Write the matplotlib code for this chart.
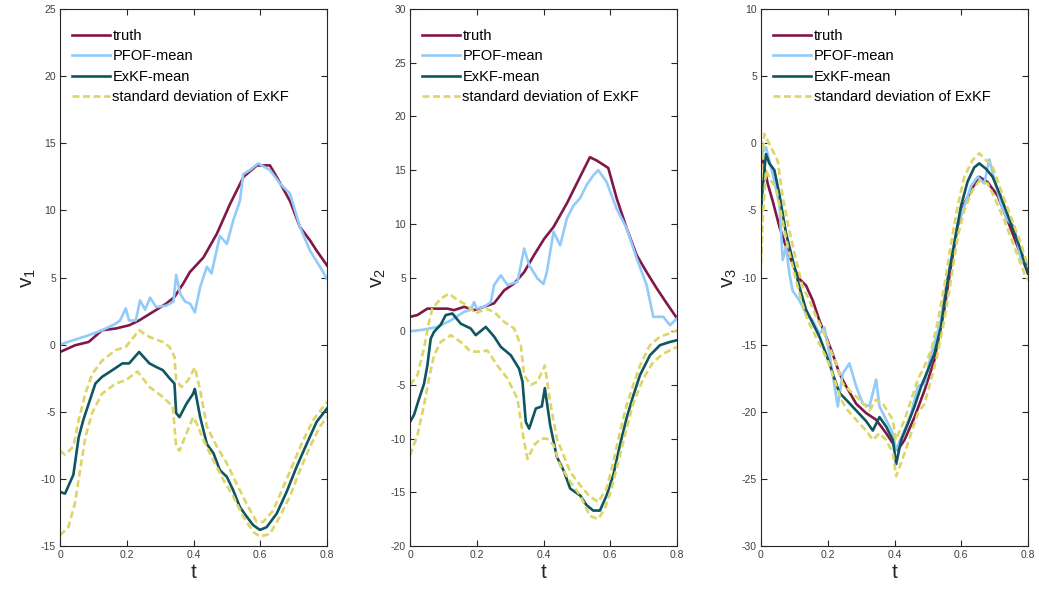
import matplotlib
matplotlib.use("Agg")
import matplotlib.pyplot as plt

plt.rcParams['font.family'] = ['Liberation Sans', 'DejaVu Sans']
plt.rcParams['mathtext.default'] = 'regular'
plt.rcParams['axes.unicode_minus'] = False

# ---------------- component v1 ----------------
v1_truth_t = [0, 0.045, 0.086, 0.126, 0.167, 0.207, 0.237, 0.278, 0.318, 0.343, 0.369, 0.389,
              0.43, 0.47, 0.51, 0.55, 0.59, 0.629, 0.649, 0.689, 0.719, 0.749, 0.769, 0.8]
v1_truth = [-0.55, -0.05, 0.2, 1.07, 1.2, 1.44, 1.8, 2.43, 3.05, 3.55, 4.54, 5.4,
            6.5, 8.26, 10.5, 12.5, 13.35, 13.35, 12.5, 10.7, 8.76, 7.77, 7.0, 5.9]

v1_pfof_t = [0, 0.045, 0.086, 0.126, 0.167, 0.18, 0.197, 0.207, 0.227, 0.24, 0.255, 0.27, 0.288,
             0.318, 0.34, 0.348, 0.36, 0.375, 0.39, 0.404, 0.42, 0.44, 0.454, 0.479, 0.5,
             0.519, 0.539, 0.549, 0.569, 0.594, 0.629, 0.659, 0.689, 0.719, 0.749, 0.779, 0.8]
v1_pfof = [0.0, 0.37, 0.7, 1.07, 1.56, 1.8, 2.7, 1.8, 1.8, 3.3, 2.6, 3.5, 2.8,
           2.9, 3.2, 5.2, 3.8, 3.2, 3.05, 2.4, 4.3, 5.8, 5.3, 8.1, 7.5,
           9.25, 10.7, 12.7, 13.0, 13.5, 13.0, 12.0, 11.25, 8.76, 7.0, 5.8, 4.9]

v1_exkf_t = [0, 0.015, 0.04, 0.056, 0.07, 0.086, 0.106, 0.126, 0.157, 0.187, 0.207, 0.237,
             0.268, 0.288, 0.308, 0.328, 0.343, 0.348, 0.358, 0.379, 0.399, 0.404, 0.42,
             0.44, 0.46, 0.479, 0.5, 0.519, 0.539, 0.559, 0.579, 0.599, 0.619, 0.649,
             0.679, 0.709, 0.739, 0.769, 0.8]
v1_exkf = [-10.97, -11.1, -9.7, -6.9, -5.6, -4.4, -2.9, -2.4, -1.9, -1.4, -1.4, -0.55,
           -1.4, -1.66, -1.9, -2.5, -2.9, -5.1, -5.4, -4.4, -3.65, -3.3, -5.4,
           -7.4, -8.1, -9.35, -9.85, -10.85, -12.1, -12.8, -13.45, -13.8, -13.6, -12.6,
           -10.97, -9.1, -7.4, -5.75, -4.76]

v1_up_t = [0, 0.015, 0.04, 0.056, 0.076, 0.096, 0.126, 0.167, 0.197, 0.237, 0.268, 0.308,
           0.328, 0.343, 0.348, 0.364, 0.384, 0.404, 0.42, 0.44, 0.47, 0.5, 0.529, 0.559,
           0.589, 0.609, 0.639, 0.669, 0.699, 0.729, 0.759, 0.8]
v1_up = [-7.9, -8.2, -7.6, -5.6, -3.65, -2.2, -1.2, -0.4, -0.17, 1.07, 0.57, 0.2,
         -0.17, -0.9, -2.65, -3.15, -2.65, -1.7, -3.4, -6.1, -7.6, -8.85, -10.35, -11.85,
         -13.2, -13.2, -12.35, -10.6, -8.85, -7.1, -5.6, -4.27]

v1_lo_t = [0, 0.025, 0.045, 0.06, 0.076, 0.096, 0.126, 0.167, 0.197, 0.232, 0.268, 0.308,
           0.338, 0.348, 0.358, 0.379, 0.399, 0.41, 0.43, 0.459, 0.49, 0.519, 0.549, 0.579,
           0.599, 0.629, 0.659, 0.689, 0.719, 0.749, 0.779, 0.8]
v1_lo = [-14.2, -13.6, -11.8, -9.35, -6.9, -5.1, -3.65, -2.9, -2.65, -2.0, -3.15, -3.9,
         -4.6, -7.6, -7.9, -6.6, -5.4, -5.9, -7.1, -8.6, -10.1, -11.3, -12.8, -13.95,
         -14.3, -14.1, -12.8, -11.3, -9.35, -7.6, -6.1, -5.4]

# ---------------- component v2 ----------------
v2_truth_t = [0, 0.022, 0.052, 0.082, 0.112, 0.132, 0.162, 0.192, 0.222, 0.252, 0.282, 0.312,
              0.342, 0.372, 0.402, 0.43, 0.47, 0.51, 0.539, 0.559, 0.594, 0.619, 0.649,
              0.679, 0.709, 0.739, 0.769, 0.8]
v2_truth = [1.34, 1.5, 2.1, 2.1, 2.1, 1.96, 2.27, 1.96, 2.27, 2.6, 3.8, 4.44,
            5.5, 7.1, 8.6, 9.7, 11.9, 14.4, 16.2, 15.9, 15.2, 12.4, 9.6,
            7.1, 5.5, 4.0, 2.6, 1.2]

v2_pfof_t = [0, 0.042, 0.082, 0.122, 0.162, 0.182, 0.192, 0.2, 0.222, 0.242, 0.252, 0.272,
             0.292, 0.322, 0.342, 0.357, 0.382, 0.4, 0.41, 0.43, 0.45, 0.47, 0.49, 0.51,
             0.529, 0.549, 0.564, 0.589, 0.619, 0.649, 0.679, 0.709, 0.729, 0.759, 0.779, 0.8]
v2_pfof = [0.0, 0.15, 0.4, 1.0, 1.8, 2.0, 2.7, 2.1, 2.27, 2.7, 4.3, 5.2,
           4.3, 4.6, 7.7, 6.15, 4.9, 4.4, 5.5, 9.25, 8.0, 10.5, 11.7, 12.4,
           13.6, 14.5, 15.0, 13.9, 11.4, 9.6, 6.8, 4.3, 1.34, 1.34, 0.56, 1.2]

v2_exkf_t = [0, 0.012, 0.027, 0.042, 0.052, 0.062, 0.072, 0.092, 0.107, 0.127, 0.152, 0.182,
             0.197, 0.227, 0.252, 0.272, 0.302, 0.327, 0.337, 0.347, 0.357, 0.377, 0.395,
             0.404, 0.42, 0.44, 0.46, 0.48, 0.51, 0.529, 0.549, 0.569, 0.589, 0.609, 0.629,
             0.649, 0.669, 0.689, 0.719, 0.749, 0.779, 0.8]
v2_exkf = [-8.45, -7.8, -6.3, -4.9, -3.2, -0.7, -0.06, 0.6, 1.5, 1.65, 0.7, 0.25,
           -0.37, 0.4, -0.5, -1.46, -2.24, -3.5, -4.7, -8.45, -9.07, -7.2, -7.0,
           -5.3, -8.75, -11.7, -12.95, -14.65, -15.3, -16.2, -16.7, -16.7, -15.3, -13.4, -10.6,
           -8.1, -6.0, -4.1, -2.24, -1.3, -1.0, -0.84]

v2_up_t = [0, 0.022, 0.042, 0.057, 0.067, 0.092, 0.117, 0.142, 0.172, 0.197, 0.227, 0.252,
           0.282, 0.312, 0.332, 0.342, 0.362, 0.382, 0.404, 0.42, 0.44, 0.46, 0.48, 0.51,
           0.539, 0.564, 0.589, 0.609, 0.629, 0.649, 0.669, 0.689, 0.719, 0.749, 0.779, 0.8]
v2_up = [-5.0, -4.1, -1.6, 0.87, 2.1, 3.04, 3.5, 2.9, 2.4, 1.65, 2.1, 1.8,
         0.87, 0.25, -1.3, -4.1, -5.0, -4.7, -3.2, -6.6, -10.0, -11.55, -13.1, -14.35,
         -15.4, -15.9, -14.65, -12.2, -9.4, -6.9, -5.0, -3.2, -1.3, -0.5, -0.2, 0.1]

v2_lo_t = [0, 0.022, 0.042, 0.057, 0.072, 0.092, 0.122, 0.152, 0.182, 0.212, 0.232, 0.262,
           0.292, 0.322, 0.337, 0.352, 0.372, 0.392, 0.41, 0.43, 0.45, 0.48, 0.51, 0.539,
           0.564, 0.584, 0.604, 0.629, 0.649, 0.669, 0.699, 0.729, 0.759, 0.8]
v2_lo = [-11.55, -9.7, -6.9, -4.4, -2.24, -1.0, -0.37, -1.0, -1.9, -1.9, -1.8, -3.2,
         -4.4, -6.3, -9.4, -11.9, -10.6, -10.0, -10.0, -10.6, -12.5, -14.0, -15.3, -17.2,
         -17.5, -16.5, -14.65, -11.55, -9.07, -6.7, -4.4, -2.86, -2.1, -1.46]

# ---------------- component v3 ----------------
v3_truth_t = [0, 0.01, 0.02, 0.035, 0.055, 0.075, 0.095, 0.115, 0.135, 0.155, 0.175, 0.195,
              0.215, 0.235, 0.255, 0.285, 0.315, 0.345, 0.375, 0.395, 0.41, 0.43, 0.46,
              0.49, 0.519, 0.549, 0.569, 0.589, 0.609, 0.634, 0.654, 0.679, 0.709, 0.739,
              0.769, 0.8]
v3_truth = [-0.8, -1.8, -3.0, -4.3, -6.2, -7.7, -9.0, -10.1, -10.6, -11.7, -13.2, -14.4,
            -15.7, -17.15, -18.1, -19.4, -20.1, -20.6, -21.6, -22.35, -22.85, -22.1, -20.4,
            -18.4, -16.2, -12.4, -9.2, -6.2, -4.5, -3.3, -2.5, -2.9, -3.9, -5.75,
            -7.7, -9.7]

v3_pfof_t = [0, 0.015, 0.035, 0.055, 0.065, 0.075, 0.085, 0.095, 0.115, 0.135, 0.155, 0.175,
             0.19, 0.205, 0.23, 0.245, 0.265, 0.285, 0.305, 0.325, 0.345, 0.355, 0.375,
             0.395, 0.404, 0.43, 0.45, 0.47, 0.49, 0.51, 0.539, 0.554, 0.569, 0.589, 0.609,
             0.629, 0.649, 0.669, 0.684, 0.699, 0.719, 0.739, 0.759, 0.779, 0.8]
v3_pfof = [-0.8, -0.3, -2.3, -4.5, -8.7, -7.7, -9.7, -11.0, -11.7, -12.7, -13.2, -14.2,
           -13.7, -15.7, -19.6, -17.15, -16.4, -18.1, -19.4, -19.6, -17.6, -19.6, -20.6,
           -21.6, -22.85, -21.4, -20.1, -18.1, -17.9, -15.7, -13.2, -10.7, -8.7, -6.0, -4.7,
           -3.2, -2.5, -3.0, -1.2, -2.7, -4.5, -5.75, -6.2, -8.7, -9.0]

v3_exkf_t = [0, 0.005, 0.015, 0.025, 0.04, 0.055, 0.075, 0.095, 0.115, 0.135, 0.155, 0.175,
             0.195, 0.215, 0.235, 0.255, 0.285, 0.315, 0.335, 0.355, 0.375, 0.395, 0.405,
             0.42, 0.44, 0.46, 0.48, 0.5, 0.519, 0.539, 0.559, 0.579, 0.599, 0.619, 0.639,
             0.654, 0.674, 0.694, 0.719, 0.749, 0.779, 0.8]
v3_exkf = [-5.25, -3.3, -0.8, -1.5, -2.0, -3.8, -6.7, -8.7, -10.7, -12.4, -13.4, -14.4,
           -15.7, -17.15, -18.6, -19.1, -19.9, -20.7, -21.4, -20.4, -21.1, -22.1, -23.9,
           -22.1, -20.9, -19.6, -18.1, -16.9, -15.7, -13.7, -10.2, -7.5, -4.7, -2.85, -1.8,
           -1.5, -1.9, -2.5, -4.0, -6.0, -8.0, -9.7]

v3_up_t = [0, 0.01, 0.02, 0.035, 0.05, 0.065, 0.085, 0.105, 0.125, 0.145, 0.165, 0.185,
           0.205, 0.225, 0.245, 0.265, 0.295, 0.325, 0.345, 0.365, 0.395, 0.404, 0.43,
           0.45, 0.47, 0.49, 0.51, 0.529, 0.549, 0.569, 0.589, 0.609, 0.634, 0.654, 0.674,
           0.694, 0.719, 0.749, 0.779, 0.8]
v3_up = [-2.8, 0.7, 0.2, -0.55, -1.3, -4.0, -6.5, -8.7, -10.7, -11.7, -12.9, -13.9,
         -15.2, -16.4, -17.9, -18.4, -19.1, -19.9, -19.1, -19.4, -20.6, -22.1, -20.6,
         -19.1, -17.6, -16.6, -15.4, -13.4, -10.7, -7.5, -4.7, -2.5, -1.25, -0.75, -1.25,
         -1.75, -3.5, -5.5, -7.5, -9.2]

v3_lo_t = [0, 0.005, 0.015, 0.03, 0.045, 0.06, 0.08, 0.1, 0.12, 0.14, 0.16, 0.18,
           0.2, 0.22, 0.24, 0.26, 0.285, 0.315, 0.335, 0.355, 0.375, 0.395, 0.405, 0.43,
           0.45, 0.47, 0.49, 0.51, 0.529, 0.549, 0.569, 0.589, 0.609, 0.634, 0.654, 0.679,
           0.699, 0.729, 0.759, 0.789, 0.8]
v3_lo = [-9.0, -5.75, -2.0, -2.8, -3.3, -5.25, -7.7, -9.7, -11.7, -13.2, -14.2, -15.2,
         -16.2, -17.6, -19.1, -19.9, -20.6, -21.4, -22.1, -21.6, -22.1, -23.1, -24.8, -23.1,
         -21.6, -20.1, -19.4, -17.6, -15.7, -13.2, -10.2, -7.0, -5.0, -3.5, -2.8, -3.0,
         -4.0, -5.75, -7.7, -9.7, -10.2]

panels = [
    ('v$_1$', (-15, 25), (v1_truth_t, v1_truth), (v1_pfof_t, v1_pfof),
     (v1_exkf_t, v1_exkf), (v1_up_t, v1_up), (v1_lo_t, v1_lo)),
    ('v$_2$', (-20, 30), (v2_truth_t, v2_truth), (v2_pfof_t, v2_pfof),
     (v2_exkf_t, v2_exkf), (v2_up_t, v2_up), (v2_lo_t, v2_lo)),
    ('v$_3$', (-30, 10), (v3_truth_t, v3_truth), (v3_pfof_t, v3_pfof),
     (v3_exkf_t, v3_exkf), (v3_up_t, v3_up), (v3_lo_t, v3_lo)),
]

c_truth = '#80174A'
c_pfof = '#92CBF9'
c_exkf = '#0F5660'
c_std = '#DDD565'
axis_col = '#262626'

W, H = 1039, 597
fig = plt.figure(figsize=(W / 100, H / 100), dpi=100)
lefts = [60, 410, 761]
ax_w = 267
ax_top, ax_bot = 9, 546

for left, (lab, ylim, tr, pf, ex, up, lo) in zip(lefts, panels):
    ax = fig.add_axes([left / W, (H - ax_bot) / H, ax_w / W, (ax_bot - ax_top) / H])
    lw = 1.9
    ax.plot(tr[0], tr[1], color=c_truth, lw=lw, label='truth')
    ax.plot(pf[0], pf[1], color=c_pfof, lw=lw, label='PFOF-mean')
    ax.plot(ex[0], ex[1], color=c_exkf, lw=lw, label='ExKF-mean')
    ax.plot(up[0], up[1], color=c_std, lw=lw, ls=(0, (2.6, 1.4)),
            label='standard deviation of ExKF')
    ax.plot(lo[0], lo[1], color=c_std, lw=lw, ls=(0, (2.6, 1.4)))
    ax.set_xlim(0, 0.8)
    ax.set_ylim(*ylim)
    ax.set_xticks([0, 0.2, 0.4, 0.6, 0.8])
    ax.set_xticklabels(['0', '0.2', '0.4', '0.6', '0.8'])
    ax.set_yticks(range(ylim[0], ylim[1] + 1, 5))
    ax.tick_params(direction='in', top=True, right=True, length=4, width=0.8,
                   labelsize=7.5, colors=axis_col, labelcolor='#404040', pad=3)
    for s in ax.spines.values():
        s.set_color(axis_col)
        s.set_linewidth(0.8)
    ax.set_xlabel('t', fontsize=15, color=axis_col, labelpad=2)
    ax.set_ylabel(lab, fontsize=15, color=axis_col, labelpad=2)
    ax.legend(loc='upper left', frameon=False, fontsize=10.5, handlelength=2.6,
              handletextpad=0.2, labelspacing=0.45, borderaxespad=0.4,
              bbox_to_anchor=(0.0, 0.985))

fig.savefig('out.png', dpi=100)
